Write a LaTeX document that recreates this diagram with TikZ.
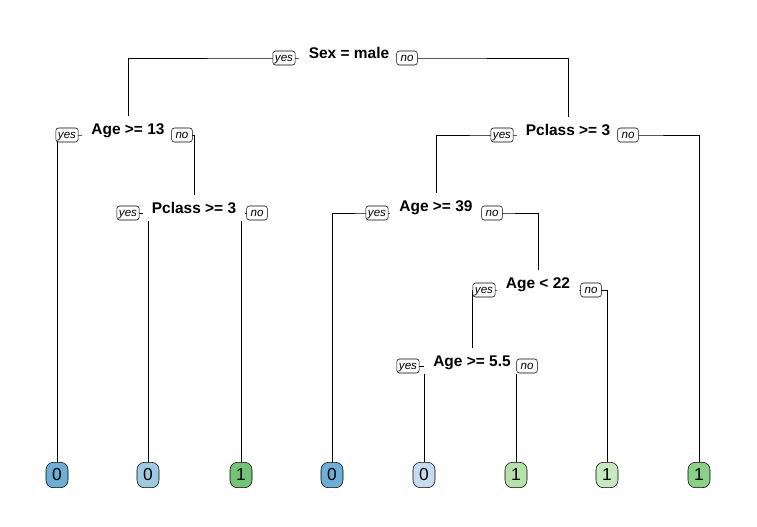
\documentclass[tikz,border=0pt]{standalone}
\usepackage{fontspec}
\setmainfont{Liberation Sans}
\definecolor{LeafBlueA}{RGB}{107,174,214}
\definecolor{LeafBlueB}{RGB}{158,202,225}
\definecolor{LeafBlueC}{RGB}{198,219,239}
\definecolor{LeafGreenA}{RGB}{116,196,118}
\definecolor{LeafGreenB}{RGB}{139,208,135}
\definecolor{LeafGreenC}{RGB}{181,225,170}
\definecolor{LeafGreenD}{RGB}{199,233,192}
\usetikzlibrary{backgrounds}

\begin{document}
\begin{tikzpicture}[x=0.75pt,y=-0.75pt,
    splitlbl/.style={fill=white,font=\fontsize{11.6}{13}\selectfont\bfseries,inner xsep=7pt,inner ysep=5.5pt,text height=8.4pt,text depth=0pt},
    ynbox/.style={draw,fill=white,rounded corners=2pt,font=\fontsize{8.7}{10}\selectfont\itshape,inner xsep=1.6pt,inner ysep=0pt,text height=6.6pt,text depth=2pt,minimum width=15.5pt,minimum height=10.5pt},
    leafbox/.style={draw,rectangle,rounded corners=5.5pt,inner sep=0pt,minimum width=16.5pt,minimum height=19pt,font=\fontsize{13}{15}\selectfont}]
        \useasboundingbox (0,0) rectangle (757,526);
        % splits
        \node[splitlbl] at (349,53) (s1) {Sex = male};
        \node[splitlbl] at (128,129) (s2) {Age >= 13};
        \node[splitlbl] at (194,208) (s3) {Pclass >= 3};
        \node[splitlbl] at (568,130) (s4) {Pclass >= 3};
        \node[splitlbl] at (436,206) (s5) {Age >= 39};
        \node[splitlbl] at (538,283) (s6) {Age < 22};
        \node[splitlbl] at (472,361) (s7) {Age >= 5.5};
        % yes / no boxes
        \node[ynbox] at (284,58) (y1) {yes};
        \node[ynbox] at (407,58) (n1) {no};
        \node[ynbox] at (67,135) (y2) {yes};
        \node[ynbox] at (182,135) (n2) {no};
        \node[ynbox] at (128,213) (y3) {yes};
        \node[ynbox] at (257,213) (n3) {no};
        \node[ynbox] at (502,135) (y4) {yes};
        \node[ynbox] at (628,135) (n4) {no};
        \node[ynbox] at (377,213) (y5) {yes};
        \node[ynbox] at (492,213) (n5) {no};
        \node[ynbox] at (484,290) (y6) {yes};
        \node[ynbox] at (591,290) (n6) {no};
        \node[ynbox] at (408,366) (y7) {yes};
        \node[ynbox] at (527,366) (n7) {no};
        % leaves
        \node[leafbox,fill=LeafBlueA] at (57,475) (l1) {0};
        \node[leafbox,fill=LeafBlueB] at (148,475) (l2) {0};
        \node[leafbox,fill=LeafGreenA] at (241,475) (l3) {1};
        \node[leafbox,fill=LeafBlueA] at (332,475) (l4) {0};
        \node[leafbox,fill=LeafBlueC] at (424,475) (l5) {0};
        \node[leafbox,fill=LeafGreenC] at (516,475) (l6) {1};
        \node[leafbox,fill=LeafGreenD] at (607,475) (l7) {1};
        \node[leafbox,fill=LeafGreenB] at (699,475) (l8) {1};
        \begin{scope}[on background layer,line width=0.75pt]
            \draw (s2.north) |- (y1.center) -- (n1.center) -| (s4.north);
            \draw (l1.north) |- (y2.center) -- (n2.center) -| (s3.north);
            \draw (l2.north) |- (y3.center) -- (n3.center) -| (l3.north);
            \draw (s5.north) |- (y4.center) -- (n4.center) -| (l8.north);
            \draw (l4.north) |- (y5.center) -- (n5.center) -| (s6.north);
            \draw (s7.north) |- (y6.center) -- (n6.center) -| (l7.north);
            \draw (l5.north) |- (y7.center) -- (n7.center) -| (l6.north);
        \end{scope}
    \end{tikzpicture}
\end{document}
